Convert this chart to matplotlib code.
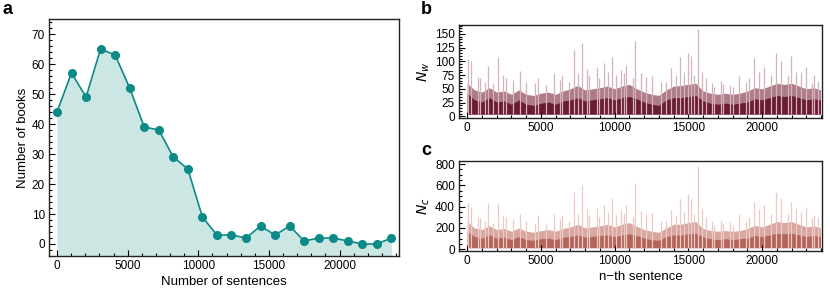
import matplotlib
matplotlib.use("Agg")
import matplotlib.pyplot as plt
from matplotlib.ticker import MultipleLocator

plt.rcParams['font.family'] = ['Liberation Sans', 'DejaVu Sans']
plt.rcParams['mathtext.fontset'] = 'dejavusans'

# panel a: histogram of book lengths
bin_centers = [0, 1029, 2058, 3087, 4116, 5145, 6174, 7203, 8232, 9261, 10290, 11319,
               12348, 13377, 14406, 15435, 16464, 17493, 18522, 19551, 20580, 21609,
               22638, 23660]
n_books = [44, 57, 49, 65, 63, 52, 39, 38, 29, 25, 9, 3, 3, 2, 6, 3, 6, 1, 2, 2, 1, 0, 0, 2]

# panels b, c: sentence lengths (words / characters), read as envelopes + spikes
env_pos = list(range(0, 24000, 500)) + [23950]
dark_w = [42, 30, 26, 34, 26, 28, 22, 30, 22, 20, 24, 26, 22, 28, 30, 34, 28, 30, 32, 34,
          30, 34, 36, 32, 26, 22, 20, 30, 34, 34, 36, 38, 28, 24, 22, 24, 22, 24, 26, 32,
          30, 34, 38, 36, 38, 34, 30, 32, 30]
mid_w = [60, 48, 44, 52, 44, 46, 40, 48, 40, 38, 42, 44, 40, 46, 50, 56, 48, 50, 52, 55,
         50, 55, 58, 50, 44, 40, 38, 48, 55, 56, 58, 60, 46, 42, 40, 42, 40, 42, 46, 52,
         50, 55, 60, 58, 60, 55, 50, 52, 48]
dark_c = [170, 120, 105, 135, 105, 115, 90, 120, 90, 85, 100, 105, 90, 115, 120, 135,
          115, 120, 130, 135, 120, 135, 145, 130, 105, 90, 85, 120, 135, 135, 145, 150,
          115, 100, 90, 100, 90, 100, 105, 130, 120, 135, 150, 145, 150, 135, 120, 130, 120]
mid_c = [260, 200, 185, 220, 185, 195, 170, 200, 170, 160, 175, 185, 170, 195, 210, 235,
         200, 210, 220, 235, 210, 235, 250, 215, 185, 170, 160, 200, 235, 235, 250, 260,
         195, 175, 170, 175, 170, 175, 195, 225, 210, 235, 260, 250, 260, 235, 210, 220, 200]
floor_w = 4
floor_c = 15

spike_pos = [60, 250, 700, 845, 1184, 1410, 1750, 2100, 2425, 2600,
             3100, 3600, 4000, 4565, 4800, 5350, 5900, 6260, 6400, 6935,
             7230, 7500, 7770, 8100, 8290, 8800, 8970, 9300, 9530, 9820,
             10090, 10400, 10660, 10800, 11220, 11400, 11800, 12100, 12500, 13140,
             13470, 13800, 14150, 14400, 14720, 15000, 15200, 15390, 15640, 15900,
             16180, 16600, 16750, 17200, 17310, 17800, 17990, 18440, 18890, 19130,
             19450, 19800, 20100, 20580, 20960, 21300, 21750, 21980, 22300, 22610,
             22950, 23400, 23510, 23800]
spike_w = [104, 101, 72, 69, 63, 92, 60, 108, 75, 70,
           66, 83, 63, 60, 69, 57, 78, 66, 75, 63,
           121, 78, 134, 86, 75, 89, 69, 97, 81, 108,
           75, 84, 78, 93, 69, 137, 78, 72, 74, 63,
           63, 87, 75, 107, 81, 115, 109, 75, 158, 81,
           69, 60, 54, 65, 58, 57, 54, 73, 63, 69,
           106, 81, 90, 75, 115, 100, 75, 110, 81, 81,
           89, 60, 75, 64]
spike_c = [437, 400, 300, 290, 270, 437, 250, 425, 320, 300,
           280, 328, 270, 250, 322, 240, 330, 280, 320, 270,
           541, 330, 603, 380, 320, 390, 300, 420, 350, 484,
           320, 370, 340, 416, 300, 619, 360, 330, 340, 270,
           270, 369, 320, 470, 350, 515, 469, 330, 780, 380,
           300, 265, 230, 275, 250, 260, 230, 330, 270, 300,
           447, 380, 416, 330, 541, 478, 330, 447, 380, 350,
           400, 290, 320, 300]

fig = plt.figure(figsize=(8.3, 3.06), dpi=100)
ax_a = fig.add_axes([0.059, 0.1634, 0.4217, 0.7745])
ax_b = fig.add_axes([0.553, 0.6144, 0.4378, 0.304])
ax_c = fig.add_axes([0.553, 0.1797, 0.4378, 0.294])


def style(ax):
    ax.tick_params(which='both', direction='in', top=False, right=False, labelsize=8.5,
                   width=0.8)
    ax.tick_params(which='major', length=4, pad=3)
    ax.tick_params(which='minor', length=2)
    for s in ax.spines.values():
        s.set_linewidth(1.0)
        s.set_color('#222222')


# a
teal = '#0b8a87'
ax_a.fill_between(bin_centers, -4, n_books, color='#cce6e4', lw=0)
ax_a.plot(bin_centers, n_books, color=teal, lw=1.2, marker='o', ms=5.5)
ax_a.set_xlim(-566, 24200)
ax_a.set_ylim(-4, 75)
ax_a.xaxis.set_major_locator(MultipleLocator(5000))
ax_a.xaxis.set_minor_locator(MultipleLocator(1000))
ax_a.yaxis.set_major_locator(MultipleLocator(10))
ax_a.yaxis.set_minor_locator(MultipleLocator(2))
ax_a.set_xlabel('Number of sentences', fontsize=9.5, labelpad=3)
ax_a.set_ylabel('Number of books', fontsize=9.5, labelpad=2)
style(ax_a)

# b, c
for ax, dark, mid, sp, floor, dcol, mcol, lcol in [
        (ax_b, dark_w, mid_w, spike_w, floor_w, '#6a1c33', '#93505f', '#d4b3bb'),
        (ax_c, dark_c, mid_c, spike_c, floor_c, '#b5645a', '#cc8a80', '#eccbc6')]:
    ax.vlines(spike_pos, floor, sp, color=lcol, lw=0.9)
    ax.fill_between(env_pos, floor, mid, color=mcol, lw=0, alpha=0.75)
    ax.fill_between(env_pos, floor, dark, color=dcol, lw=0)
    ax.set_xlim(-555, 24080)
    ax.xaxis.set_major_locator(MultipleLocator(5000))
    ax.xaxis.set_minor_locator(MultipleLocator(1000))
    style(ax)

ax_b.set_ylim(-3, 166)
ax_b.yaxis.set_major_locator(MultipleLocator(25))
ax_b.yaxis.set_minor_locator(MultipleLocator(5))
ax_b.set_ylabel('$N_w$', fontsize=10, labelpad=2)

ax_c.set_ylim(-16, 828)
ax_c.yaxis.set_major_locator(MultipleLocator(200))
ax_c.yaxis.set_minor_locator(MultipleLocator(50))
ax_c.set_ylabel('$N_c$', fontsize=10, labelpad=2)
ax_c.set_xlabel('n\u2212th sentence', fontsize=9.5, labelpad=3)

fig.text(0.003, 0.997, 'a', fontsize=13, fontweight='bold', va='top', ha='left')
fig.text(0.507, 0.997, 'b', fontsize=13, fontweight='bold', va='top', ha='left')
fig.text(0.507, 0.535, 'c', fontsize=13, fontweight='bold', va='top', ha='left')

fig.savefig('out.png', dpi=100)
